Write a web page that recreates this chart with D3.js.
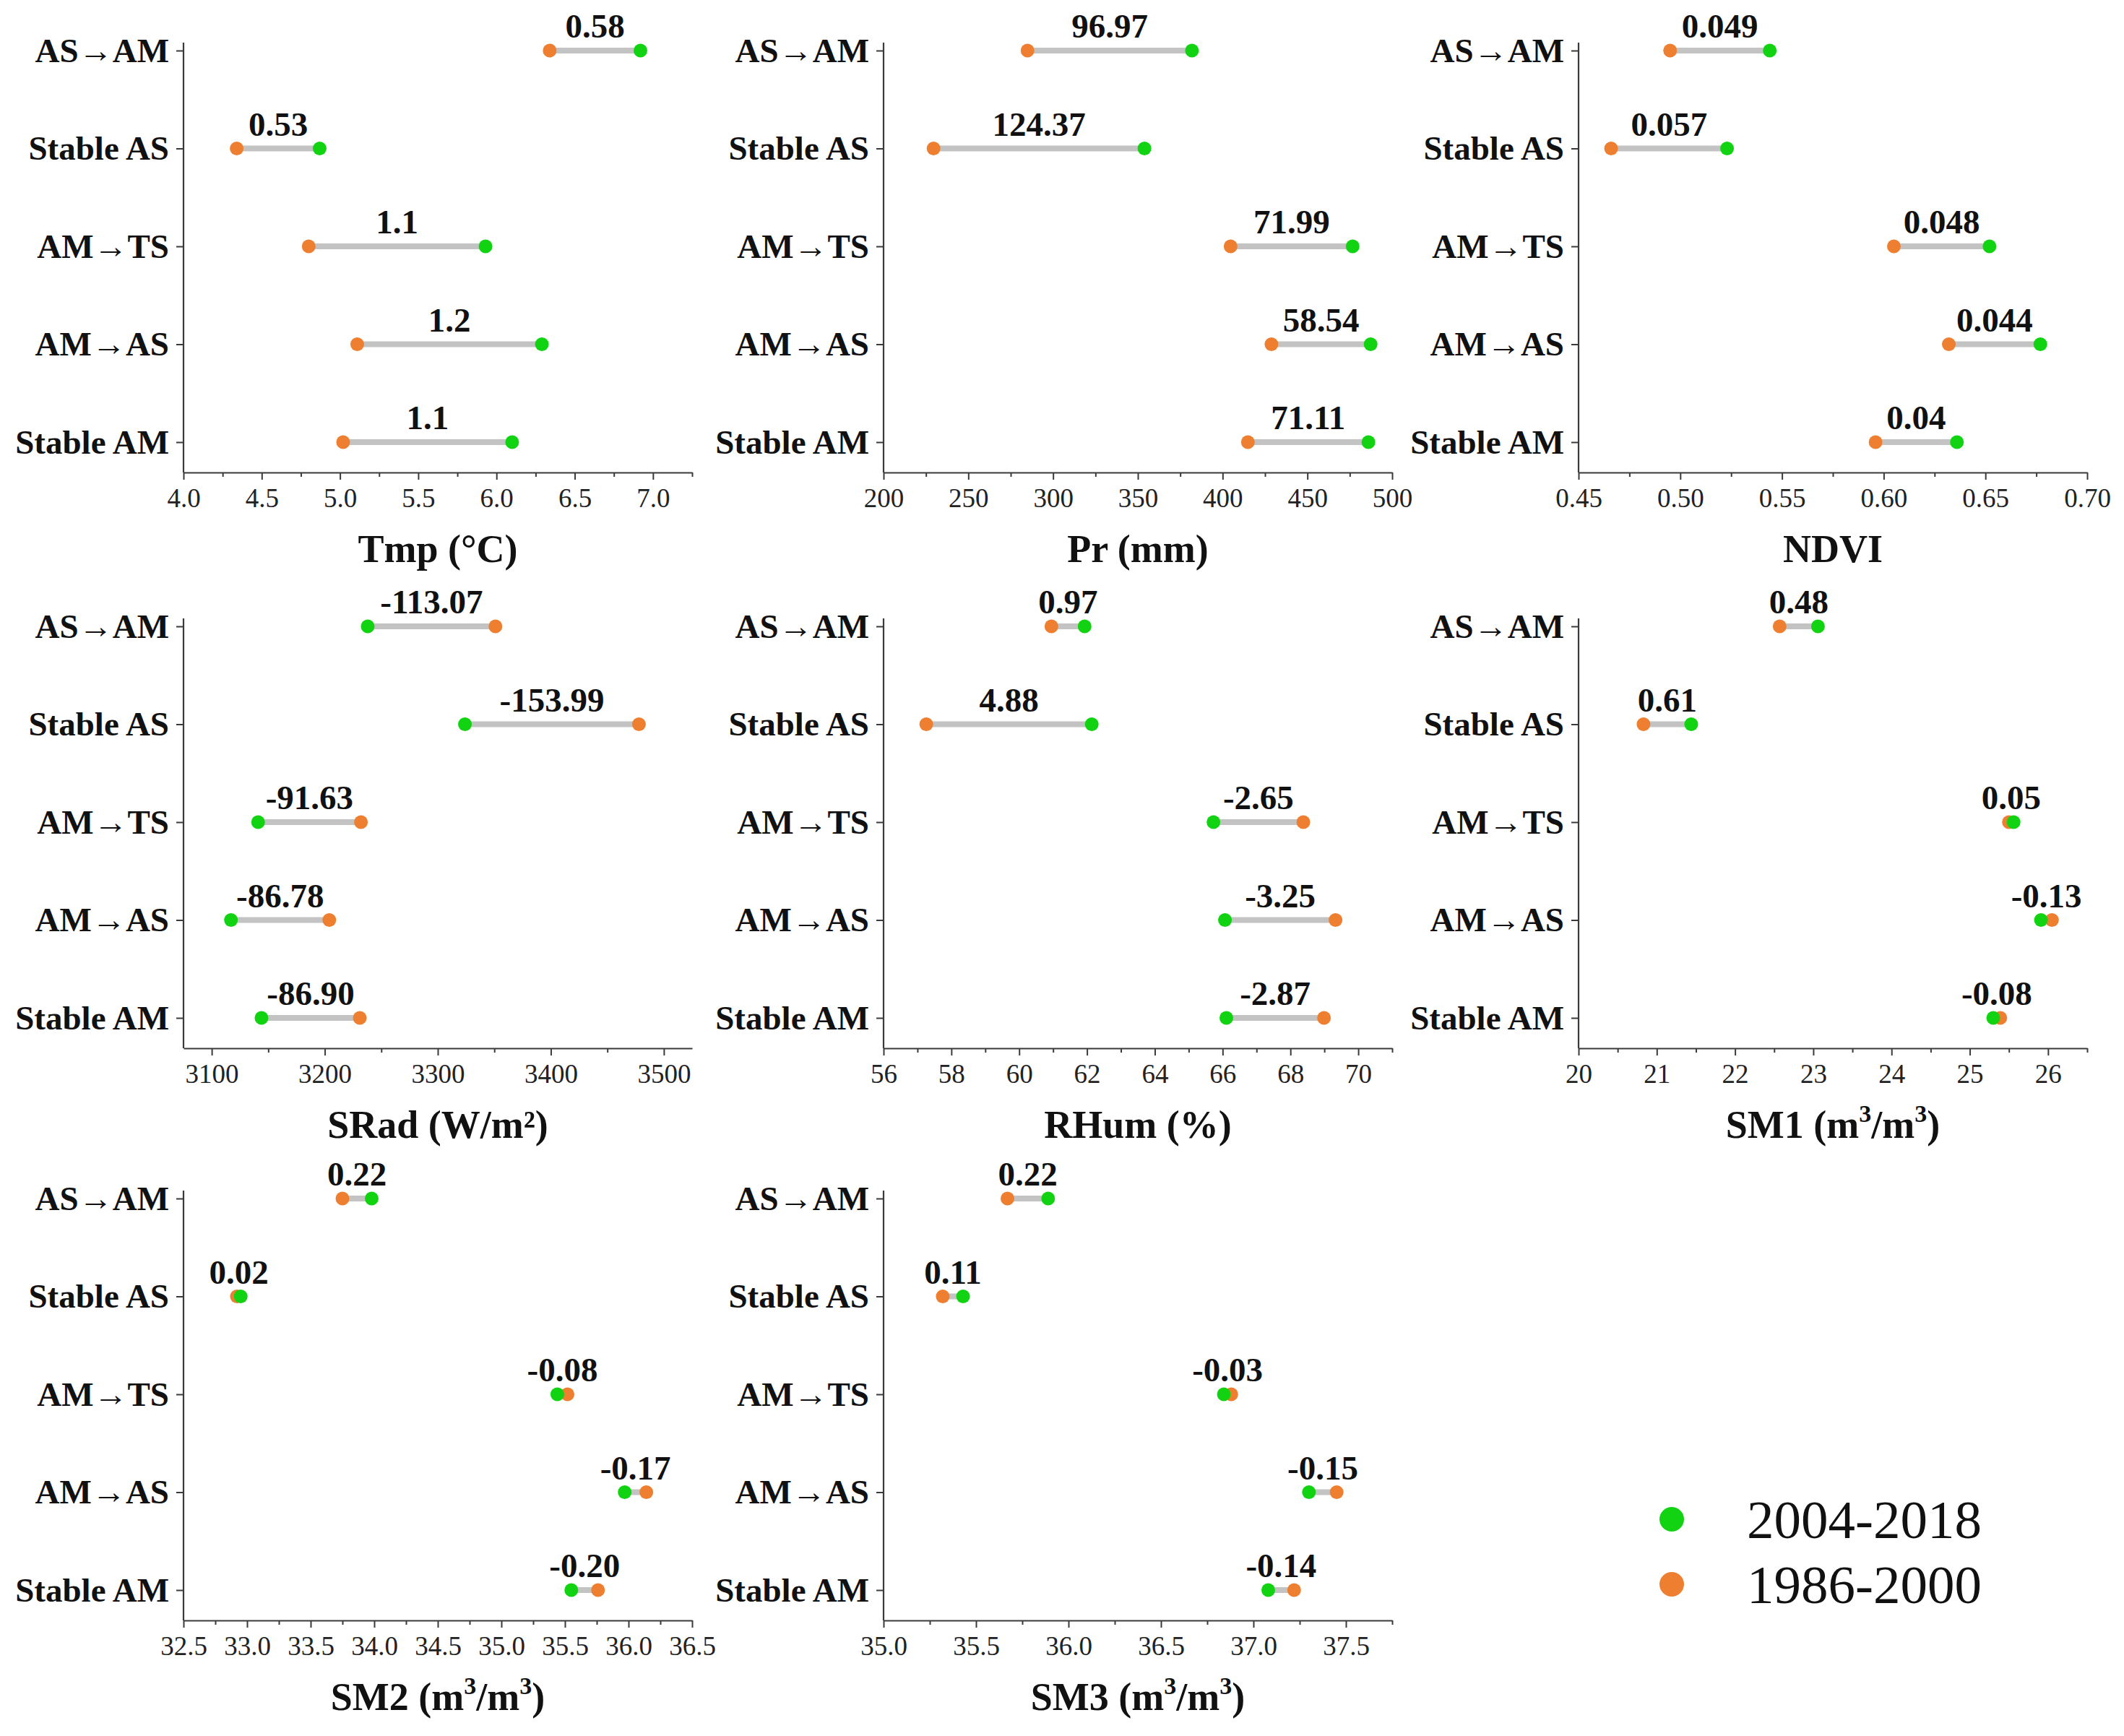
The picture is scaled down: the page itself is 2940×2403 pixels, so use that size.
<!DOCTYPE html>
<html>
<head>
<meta charset="utf-8">
<script src="https://cdn.jsdelivr.net/npm/d3@7"></script>
<style>
  body { margin: 0; background: #fff; }
  svg { display: block; }
</style>
</head>
<body>
<svg id="chart"></svg>
<script>
// Categories (top to bottom)
const categories = ["AS→AM", "Stable AS", "AM→TS", "AM→AS", "Stable AM"];
const seriesNames = ["2004-2018", "1986-2000"];

// Tmp
const tmpRecent = [6.92, 4.87, 5.93, 6.29, 6.10];
const tmpPast   = [6.34, 4.34, 4.80, 5.11, 5.02];
const tmpDiff   = ["0.58", "0.53", "1.1", "1.2", "1.1"];
const tmpTicks  = [4.0, 4.5, 5.0, 5.5, 6.0, 6.5, 7.0];

// Pr
const prRecent = [381.9, 353.9, 476.7, 487.3, 486.0];
const prPast   = [284.9, 229.5, 404.7, 428.8, 414.9];
const prDiff   = ["96.97", "124.37", "71.99", "58.54", "71.11"];
const prTicks  = [200, 250, 300, 350, 400, 450, 500];

// NDVI
const ndviRecent = [0.544, 0.523, 0.652, 0.677, 0.636];
const ndviPast   = [0.495, 0.466, 0.605, 0.632, 0.596];
const ndviDiff   = ["0.049", "0.057", "0.048", "0.044", "0.04"];
const ndviTicks  = [0.45, 0.50, 0.55, 0.60, 0.65, 0.70];

// SRad
const sradRecent = [3238, 3324, 3141, 3117, 3144];
const sradPast   = [3351, 3478, 3232, 3204, 3231];
const sradDiff   = ["-113.07", "-153.99", "-91.63", "-86.78", "-86.90"];
const sradTicks  = [3100, 3200, 3300, 3400, 3500];

// RHum
const rhumRecent = [61.93, 62.14, 65.73, 66.07, 66.11];
const rhumPast   = [60.95, 57.26, 68.38, 69.33, 68.99];
const rhumDiff   = ["0.97", "4.88", "-2.65", "-3.25", "-2.87"];
const rhumTicks  = [56, 58, 60, 62, 64, 66, 68, 70];

// SM1
const sm1Recent = [23.06, 21.44, 25.56, 25.91, 25.30];
const sm1Past   = [22.57, 20.83, 25.50, 26.05, 25.39];
const sm1Diff   = ["0.48", "0.61", "0.05", "-0.13", "-0.08"];
const sm1Ticks  = [20, 21, 22, 23, 24, 25, 26];

// SM2
const sm2Recent = [33.98, 32.95, 35.44, 35.97, 35.55];
const sm2Past   = [33.75, 32.92, 35.52, 36.14, 35.76];
const sm2Diff   = ["0.22", "0.02", "-0.08", "-0.17", "-0.20"];
const sm2Ticks  = [32.5, 33.0, 33.5, 34.0, 34.5, 35.0, 35.5, 36.0, 36.5];

// SM3
const sm3Recent = [35.89, 35.43, 36.84, 37.30, 37.08];
const sm3Past   = [35.67, 35.32, 36.88, 37.45, 37.22];
const sm3Diff   = ["0.22", "0.11", "-0.03", "-0.15", "-0.14"];
const sm3Ticks  = [35.0, 35.5, 36.0, 36.5, 37.0, 37.5];

const panels = [
  {title: "Tmp (°C)",       recent: tmpRecent,  past: tmpPast,  diff: tmpDiff,  ticks: tmpTicks,  domain: [4.0, 7.25],  fmt: ".1f"},
  {title: "Pr (mm)",        recent: prRecent,   past: prPast,   diff: prDiff,   ticks: prTicks,   domain: [200, 500],   fmt: "d"},
  {title: "NDVI",           recent: ndviRecent, past: ndviPast, diff: ndviDiff, ticks: ndviTicks, domain: [0.45, 0.70], fmt: ".2f"},
  {title: "SRad (W/m²)",    recent: sradRecent, past: sradPast, diff: sradDiff, ticks: sradTicks, domain: [3075, 3525], fmt: "d"},
  {title: "RHum (%)",       recent: rhumRecent, past: rhumPast, diff: rhumDiff, ticks: rhumTicks, domain: [56, 71],     fmt: "d"},
  {title: "SM1 (m^3/m^3)",  recent: sm1Recent,  past: sm1Past,  diff: sm1Diff,  ticks: sm1Ticks,  domain: [20, 26.5],   fmt: "d"},
  {title: "SM2 (m^3/m^3)",  recent: sm2Recent,  past: sm2Past,  diff: sm2Diff,  ticks: sm2Ticks,  domain: [32.5, 36.5], fmt: ".1f"},
  {title: "SM3 (m^3/m^3)",  recent: sm3Recent,  past: sm3Past,  diff: sm3Diff,  ticks: sm3Ticks,  domain: [35.0, 37.75],fmt: ".1f"}
];

const colors = {recent: "#12d312", past: "#ee7f30", bar: "#c3c3c3", axis: "#3a3a3a"};
const serif = "'Liberation Serif', 'Times New Roman', serif";

// Layout
const W = 2940, H = 2403;
const panelW = 704, catSpan = 542, axisGap = 42;
const colX = [254, 1223, 2185];
const rowY = [70, 867, 1659];

const svg = d3.select("#chart")
  .attr("width", W)
  .attr("height", H)
  .style("font-family", serif);

panels.forEach((p, i) => {
  const g = svg.append("g")
    .attr("transform", `translate(${colX[i % 3]},${rowY[Math.floor(i / 3)]})`);

  const x = d3.scaleLinear().domain(p.domain).range([0, panelW]);
  const y = d3.scalePoint().domain(categories).range([0, catSpan]);
  const axisY = catSpan + axisGap;

  // minor ticks halfway between majors
  const step = p.ticks[1] - p.ticks[0];
  const minor = [];
  for (let v = p.ticks[0] - step / 2; v <= p.domain[1] + 1e-9; v += step) {
    if (v >= p.domain[0] - 1e-9) minor.push(v);
  }

  // X axis (major)
  const xa = g.append("g")
    .attr("transform", `translate(0,${axisY})`)
    .call(d3.axisBottom(x).tickValues(p.ticks).tickFormat(d3.format(p.fmt))
      .tickSize(10).tickSizeOuter(0).tickPadding(12));
  xa.attr("font-family", null);
  xa.select(".domain").attr("stroke", colors.axis).attr("stroke-width", 2.2);
  xa.selectAll(".tick line").attr("stroke", colors.axis).attr("stroke-width", 2);
  xa.selectAll(".tick text")
    .style("font-family", serif).attr("font-size", 37).attr("fill", "#222");

  // X axis (minor)
  const xm = g.append("g")
    .attr("transform", `translate(0,${axisY})`)
    .call(d3.axisBottom(x).tickValues(minor).tickFormat("").tickSize(6).tickSizeOuter(0));
  xm.select(".domain").remove();
  xm.selectAll(".tick text").remove();
  xm.selectAll(".tick line").attr("stroke", colors.axis).attr("stroke-width", 2);

  // Y axis
  const ya = g.append("g")
    .call(d3.axisLeft(y).tickSize(10).tickPadding(10));
  ya.attr("font-family", null);
  ya.select(".domain").remove();
  ya.selectAll(".tick line").attr("stroke", colors.axis).attr("stroke-width", 2);
  ya.selectAll(".tick text")
    .style("font-family", serif).attr("font-size", 47)
    .attr("font-weight", "bold").attr("fill", "#111");
  g.append("line")
    .attr("x1", 0).attr("x2", 0).attr("y1", -11).attr("y2", axisY)
    .attr("stroke", colors.axis).attr("stroke-width", 2.2);

  const rows = categories.map((c, k) => ({cat: c, a: p.recent[k], b: p.past[k], label: p.diff[k]}));

  // Connecting bars
  g.selectAll(".bar")
    .data(rows)
    .join("line")
    .attr("x1", d => x(d.b))
    .attr("x2", d => x(d.a))
    .attr("y1", d => y(d.cat))
    .attr("y2", d => y(d.cat))
    .attr("stroke", colors.bar)
    .attr("stroke-width", 8);

  // 1986-2000 dots
  g.selectAll(".past")
    .data(rows)
    .join("circle")
    .attr("cx", d => x(d.b))
    .attr("cy", d => y(d.cat))
    .attr("r", 9.5)
    .attr("fill", colors.past);

  // 2004-2018 dots
  g.selectAll(".recent")
    .data(rows)
    .join("circle")
    .attr("cx", d => x(d.a))
    .attr("cy", d => y(d.cat))
    .attr("r", 9.5)
    .attr("fill", colors.recent);

  // Difference labels
  g.selectAll(".lbl")
    .data(rows)
    .join("text")
    .attr("x", d => x((d.a + d.b) / 2))
    .attr("y", d => y(d.cat) - 18)
    .attr("text-anchor", "middle")
    .attr("font-size", 47)
    .attr("font-weight", "bold")
    .attr("fill", "#111")
    .text(d => d.label);

  // Axis title (^ marks a superscript digit)
  const t = g.append("text")
    .attr("x", panelW / 2)
    .attr("y", axisY + 124)
    .attr("text-anchor", "middle")
    .attr("font-size", 54)
    .attr("font-weight", "bold")
    .attr("fill", "#111");
  let shift = 0;
  p.title.split(/(\^\d)/).filter(s => s).forEach(part => {
    if (part.startsWith("^")) {
      t.append("tspan").attr("font-size", 34).attr("dy", -22).text(part.slice(1));
      shift = 22;
    } else {
      t.append("tspan").attr("dy", shift).text(part);
      shift = 0;
    }
  });
});

// Legend
const legend = svg.append("g").attr("transform", "translate(2314,2103)");
[colors.recent, colors.past].forEach((c, k) => {
  legend.append("circle").attr("cx", 0).attr("cy", k * 90).attr("r", 17).attr("fill", c);
  legend.append("text")
    .attr("x", 104).attr("y", k * 90 + 26)
    .attr("font-size", 75)
    .attr("fill", "#111")
    .text(seriesNames[k]);
});
</script>
</body>
</html>
